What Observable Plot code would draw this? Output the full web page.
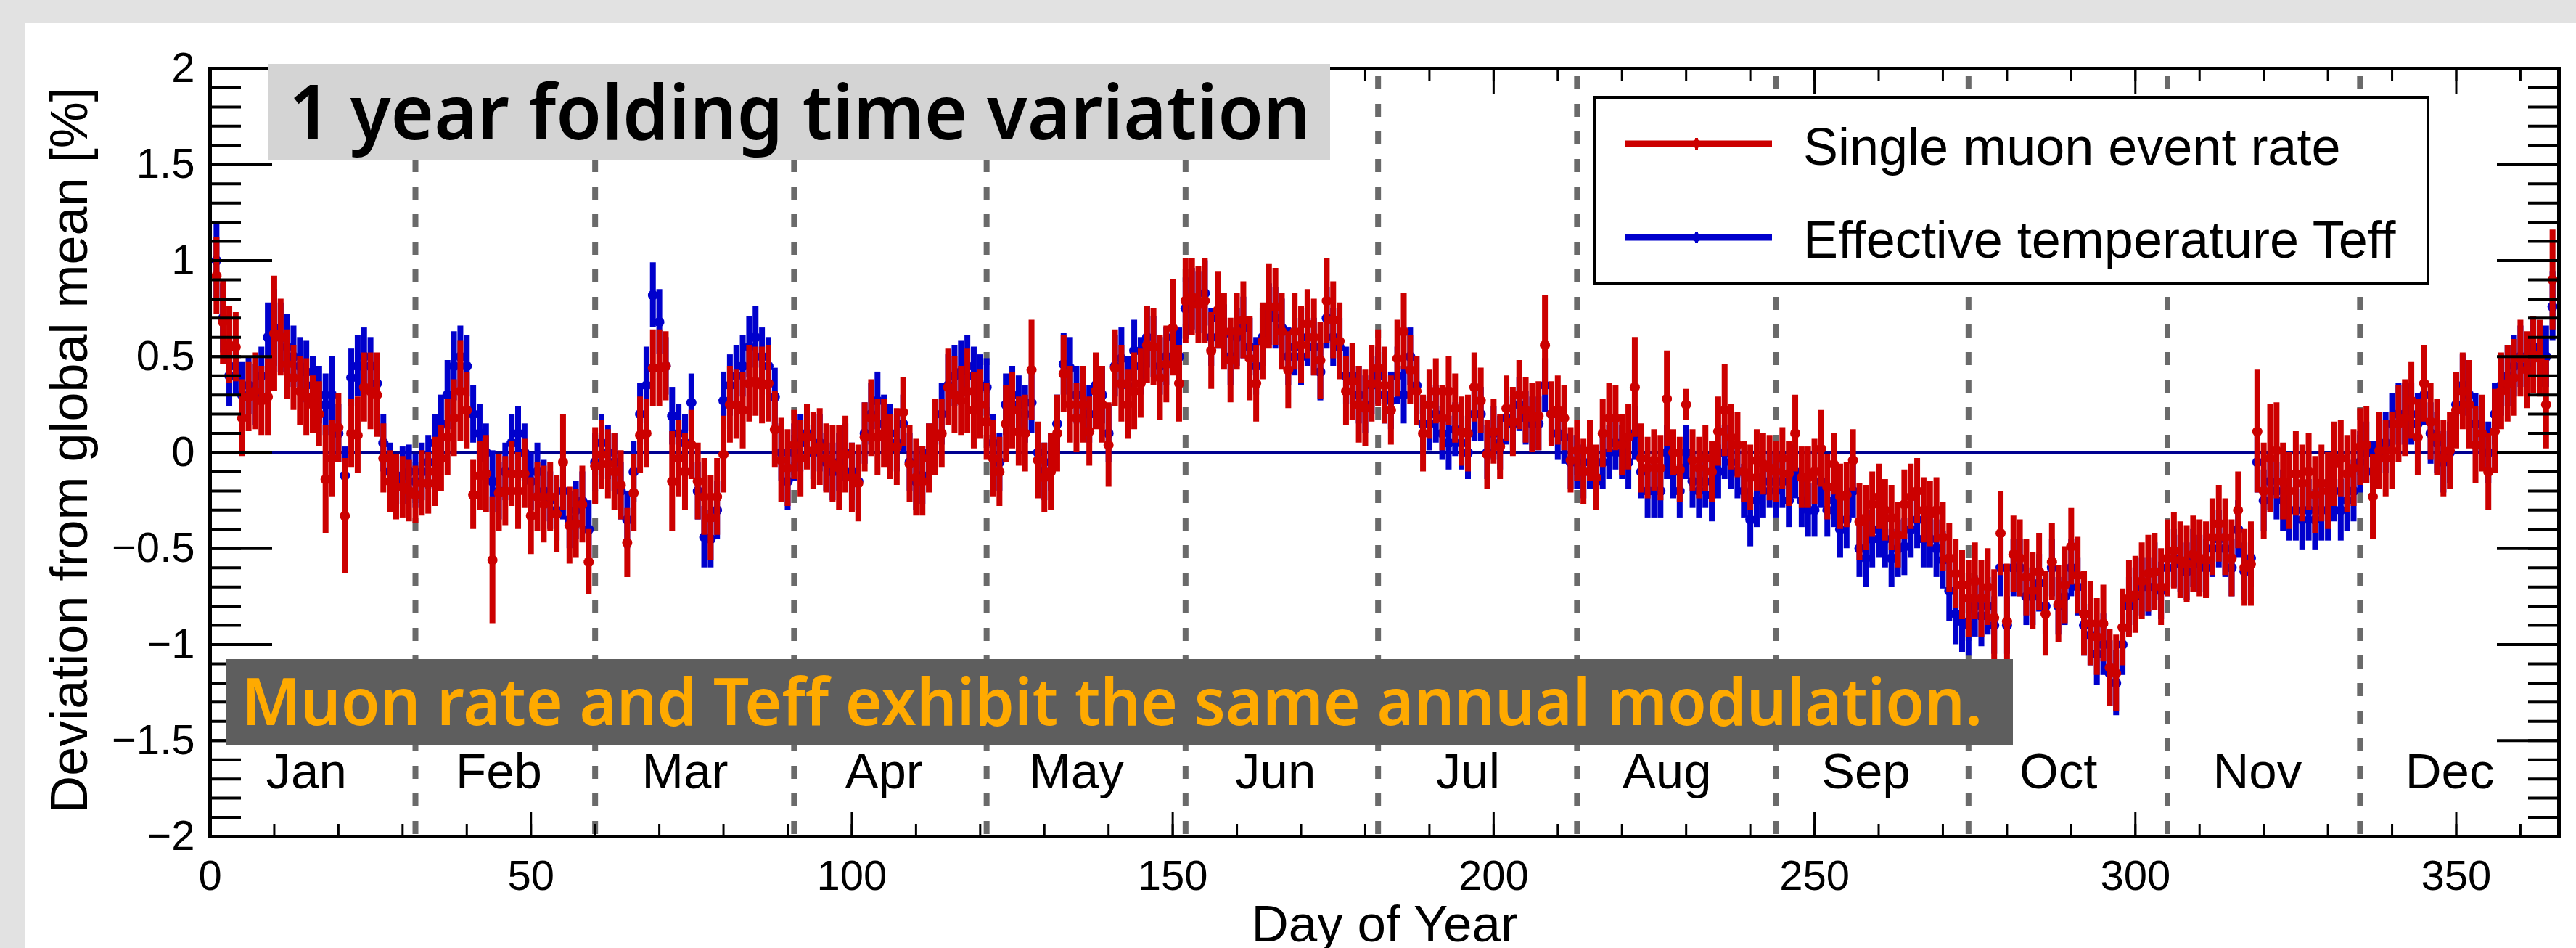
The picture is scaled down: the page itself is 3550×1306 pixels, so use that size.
<!DOCTYPE html>
<html>
<head>
<meta charset="utf-8">
<script src="https://cdn.jsdelivr.net/npm/d3@7"></script>
<script src="https://cdn.jsdelivr.net/npm/@observablehq/plot@0.6"></script>
<style>
  html, body { margin: 0; padding: 0; background: #e2e2e2; }
  #wrap { position: relative; width: 3550px; height: 1306px; overflow: hidden; background: #e2e2e2; }
  #panel { position: absolute; left: 34px; top: 31px; width: 3516px; height: 1275px; background: #ffffff; }
  #chart { position: absolute; left: 0; top: 0; }
  #overlay { position: absolute; left: 0; top: 0; }
</style>
</head>
<body>
<div id="wrap">
  <div id="panel"></div>
  <div id="chart"></div>
  <svg id="overlay" width="3550" height="1306" xmlns="http://www.w3.org/2000/svg">
    <rect x="370" y="88" width="1463" height="133" fill="#d4d4d4"/>
    <text x="398" y="192" fill="#000" font-family="'Noto Sans', 'Noto Sans CJK JP', sans-serif" font-weight="600" font-size="104" textLength="1408" lengthAdjust="spacingAndGlyphs">1 year folding time variation</text>

    <rect x="312" y="908" width="2462" height="118" fill="#5e5e5e"/>
    <text x="333" y="999" fill="#ffaa00" font-family="'Noto Sans', 'Noto Sans CJK JP', sans-serif" font-weight="600" font-size="91" textLength="2399" lengthAdjust="spacingAndGlyphs">Muon rate and Teff exhibit the same annual modulation.</text>

    <rect x="2199" y="136" width="1149" height="256" fill="#000"/>
    <rect x="2197" y="134" width="1149" height="256" fill="#fff" stroke="#000" stroke-width="4"/>
    <line x1="2239" x2="2442" y1="198" y2="198" stroke="#cc0000" stroke-width="9"/>
    <line x1="2338" x2="2338" y1="190" y2="206" stroke="#cc0000" stroke-width="4"/>
    <circle cx="2338" cy="198" r="6" fill="#cc0000"/>
    <text x="2485" y="227" fill="#000" font-family="'Liberation Sans', Arial, sans-serif" font-size="72">Single muon event rate</text>
    <line x1="2239" x2="2442" y1="327" y2="327" stroke="#0000cc" stroke-width="9"/>
    <line x1="2338" x2="2338" y1="319" y2="335" stroke="#0000cc" stroke-width="4"/>
    <circle cx="2338" cy="327" r="6" fill="#0000cc"/>
    <text x="2485" y="355" fill="#000" font-family="'Liberation Sans', Arial, sans-serif" font-size="72">Effective temperature Teff</text>
  </svg>
</div>
<script>
// ---------------- data (day of year 1..365) ----------------
const muonRate = [
  // Jan
  0.92,0.68,0.56,0.55,0.18,0.29,0.32,0.27,0.29,0.62,0.6,0.46,0.39,0.32,0.29,0.25,0.2,-0.14,-0.03,0.13,-0.33,0.1,0.09,0.34,0.32,0.3,-0.03,-0.15,-0.18,-0.18,-0.2,
  // Feb
  -0.22,-0.16,-0.16,-0.1,-0.03,0.08,0.18,0.32,0.22,-0.22,-0.12,-0.11,-0.56,-0.21,-0.2,-0.11,-0.2,-0.11,-0.33,-0.23,-0.27,-0.23,-0.32,-0.05,-0.38,-0.37,-0.27,-0.57,
  // Mar
  -0.07,-0.01,-0.06,-0.1,-0.17,-0.47,-0.21,0.09,0.1,0.44,0.44,0.45,-0.15,-0.03,-0.1,0.04,-0.15,-0.23,-0.34,-0.23,-0.01,0.25,0.25,0.22,0.36,0.37,0.35,0.36,0.12,-0.04,-0.08,
  // Apr
  0.04,-0.03,0.08,0.01,0.03,-0.03,-0.06,-0.08,-0.01,-0.13,-0.16,0.08,0.18,0.08,0.1,0.03,0.03,0.21,-0.06,-0.13,-0.15,-0.03,0.08,0.1,0.34,0.3,0.27,0.32,0.22,0.25,
  // May
  0.16,-0.03,-0.1,0.15,0.22,0.11,0.1,0.43,-0.04,-0.13,-0.1,0.1,0.41,0.25,0.18,0.25,0.11,0.32,0.25,0.04,0.44,0.36,0.25,0.32,0.36,0.56,0.55,0.39,0.46,0.65,0.36,
  // Jun
  0.79,0.81,0.77,0.79,0.53,0.74,0.63,0.48,0.63,0.69,0.49,0.36,0.58,0.76,0.76,0.63,0.43,0.63,0.56,0.67,0.6,0.48,0.79,0.69,0.58,0.32,0.37,0.25,0.23,0.36,
  // Jul
  0.44,0.35,0.22,0.49,0.63,0.43,0.32,0.1,0.25,0.32,0.18,0.32,0.23,0.11,0.1,0.34,0.27,-0.01,0.11,0.03,0.23,0.16,0.3,0.22,0.18,0.19,0.56,0.2,0.22,0.18,-0.04,
  // Aug
  0.01,-0.1,0.01,-0.13,0.1,0.18,0.18,0.04,0.08,0.34,-0.03,-0.08,-0.04,-0.08,0.28,0.0,-0.09,0.25,-0.04,-0.08,-0.03,-0.1,0.11,0.22,0.08,0.04,-0.1,-0.13,-0.04,-0.06,-0.08,
  // Sep
  -0.1,-0.03,-0.11,0.1,-0.13,-0.13,-0.1,0.02,-0.18,-0.06,-0.23,-0.22,-0.04,-0.36,-0.34,-0.27,-0.23,-0.3,-0.34,-0.43,-0.27,-0.23,-0.2,-0.3,-0.32,-0.3,-0.44,-0.55,-0.63,-0.69,
  // Oct
  -0.76,-0.67,-0.76,-0.7,-0.86,-0.42,-0.88,-0.53,-0.55,-0.65,-0.72,-0.62,-0.84,-0.57,-0.79,-0.69,-0.49,-0.64,-0.84,-0.89,-0.96,-0.89,-1.12,-1.15,-0.91,-0.76,-0.74,-0.67,-0.63,-0.62,-0.7,
  // Nov
  -0.55,-0.51,-0.56,-0.58,-0.53,-0.55,-0.56,-0.44,-0.37,-0.44,-0.55,-0.3,-0.6,-0.58,0.11,-0.2,-0.03,0.01,-0.15,-0.2,-0.11,-0.16,-0.1,-0.22,-0.16,-0.2,-0.06,-0.03,-0.11,-0.08,
  // Dec
  0.03,0.04,-0.23,0.01,-0.03,0.01,0.15,0.18,0.27,0.08,0.36,0.16,0.08,-0.03,0.01,0.22,0.32,0.25,0.04,0.1,-0.1,0.11,0.32,0.36,0.39,0.49,0.43,0.51,0.49,0.25,0.9
];
const muonErr = [
  0.2,0.22,0.2,0.18,0.2,0.18,0.2,0.18,0.2,0.3,0.2,0.18,0.17,0.18,0.2,0.15,0.17,0.28,0.2,0.18,0.3,0.18,0.2,0.18,0.2,0.22,0.18,0.16,0.17,0.16,0.16,
  0.15,0.17,0.16,0.18,0.17,0.2,0.2,0.26,0.2,0.18,0.18,0.2,0.33,0.2,0.18,0.17,0.2,0.18,0.2,0.18,0.2,0.18,0.2,0.25,0.2,0.18,0.2,0.17,
  0.2,0.18,0.18,0.2,0.18,0.18,0.2,0.2,0.18,0.2,0.2,0.18,0.26,0.2,0.2,0.18,0.2,0.2,0.22,0.2,0.2,0.2,0.18,0.2,0.2,0.18,0.2,0.2,0.2,0.22,0.2,
  0.18,0.2,0.17,0.2,0.2,0.18,0.2,0.22,0.2,0.18,0.2,0.18,0.2,0.2,0.18,0.17,0.2,0.18,0.2,0.2,0.18,0.18,0.2,0.18,0.2,0.2,0.18,0.22,0.2,0.18,
  0.2,0.2,0.18,0.2,0.2,0.18,0.2,0.26,0.2,0.18,0.2,0.2,0.2,0.2,0.18,0.2,0.18,0.2,0.2,0.22,0.2,0.2,0.18,0.2,0.18,0.2,0.2,0.22,0.2,0.25,0.2,
  0.22,0.2,0.2,0.22,0.2,0.2,0.2,0.22,0.2,0.2,0.22,0.2,0.2,0.22,0.2,0.2,0.2,0.2,0.2,0.18,0.2,0.2,0.22,0.2,0.2,0.18,0.2,0.2,0.2,0.2,
  0.2,0.2,0.18,0.2,0.2,0.18,0.18,0.2,0.18,0.17,0.17,0.18,0.18,0.18,0.2,0.18,0.17,0.18,0.17,0.17,0.17,0.18,0.18,0.17,0.18,0.18,0.26,0.17,0.18,0.17,0.17,
  0.16,0.17,0.16,0.17,0.18,0.18,0.17,0.16,0.17,0.26,0.18,0.16,0.16,0.17,0.25,0.12,0.17,0.08,0.16,0.16,0.17,0.16,0.18,0.24,0.17,0.17,0.16,0.17,0.16,0.16,0.17,
  0.16,0.16,0.17,0.2,0.16,0.16,0.17,0.2,0.17,0.16,0.17,0.17,0.16,0.2,0.17,0.17,0.17,0.16,0.17,0.17,0.18,0.17,0.17,0.17,0.17,0.17,0.18,0.18,0.18,0.18,
  0.2,0.2,0.2,0.2,0.25,0.22,0.3,0.2,0.2,0.2,0.2,0.2,0.22,0.2,0.2,0.2,0.2,0.2,0.22,0.22,0.2,0.2,0.2,0.2,0.2,0.2,0.2,0.2,0.2,0.2,0.2,
  0.2,0.2,0.2,0.2,0.2,0.2,0.2,0.2,0.2,0.2,0.2,0.2,0.2,0.22,0.32,0.25,0.28,0.25,0.2,0.2,0.22,0.2,0.2,0.2,0.2,0.2,0.22,0.2,0.2,0.2,
  0.2,0.2,0.22,0.2,0.2,0.2,0.2,0.2,0.2,0.2,0.2,0.2,0.2,0.2,0.2,0.2,0.2,0.23,0.2,0.2,0.2,0.22,0.2,0.2,0.2,0.2,0.2,0.2,0.2,0.23,0.26
];
const teffDev = [
  1.0,0.7,0.4,0.45,0.3,0.35,0.3,0.4,0.6,0.65,0.6,0.55,0.5,0.45,0.42,0.35,0.3,0.25,0.3,0.1,-0.12,0.39,0.45,0.5,0.45,0.36,0.05,-0.1,-0.15,-0.12,-0.1,
  -0.15,-0.1,-0.05,0.05,0.15,0.3,0.45,0.5,0.45,0.2,0.1,0.0,-0.15,-0.2,-0.1,0.05,0.1,0.0,-0.15,-0.1,-0.2,-0.25,-0.3,-0.2,-0.35,-0.3,-0.25,-0.4,
  -0.05,0.05,0.0,-0.05,-0.2,-0.35,-0.1,0.2,0.35,0.82,0.68,0.45,0.19,0.1,0.05,0.26,-0.2,-0.44,-0.45,-0.3,0.27,0.35,0.4,0.45,0.55,0.6,0.5,0.45,0.29,0.0,-0.15,
  0.0,0.05,0.1,0.0,0.05,-0.05,-0.1,-0.05,0.0,-0.1,-0.15,0.1,0.2,0.27,0.15,0.1,0.05,0.15,-0.05,-0.15,-0.12,0.0,0.1,0.2,0.35,0.4,0.42,0.45,0.4,0.35,
  0.34,0.05,-0.05,0.25,0.3,0.25,0.2,0.26,0.0,-0.1,-0.05,0.15,0.46,0.44,0.3,0.25,0.2,0.35,0.3,0.1,0.45,0.49,0.35,0.53,0.45,0.6,0.55,0.45,0.5,0.6,0.5,
  0.75,0.8,0.78,0.83,0.6,0.7,0.62,0.5,0.6,0.65,0.55,0.45,0.6,0.72,0.7,0.65,0.5,0.55,0.5,0.6,0.55,0.42,0.7,0.6,0.55,0.4,0.4,0.3,0.25,0.35,
  0.4,0.3,0.27,0.4,0.3,0.5,0.35,0.15,0.15,0.2,0.1,0.05,0.12,0.05,0.0,0.2,0.2,0.0,0.1,0.05,0.18,0.15,0.25,0.18,0.15,0.15,0.35,0.2,0.1,0.08,-0.05,
  -0.05,-0.1,-0.05,-0.15,-0.05,0.0,0.05,0.0,-0.05,0.1,-0.1,-0.2,-0.2,-0.2,0.0,-0.1,-0.2,0.0,-0.15,-0.2,-0.15,-0.22,-0.1,0.0,-0.05,-0.1,-0.2,-0.35,-0.25,-0.2,-0.15,
  -0.2,-0.15,-0.25,-0.1,-0.25,-0.3,-0.3,-0.15,-0.3,-0.25,-0.4,-0.35,-0.2,-0.5,-0.55,-0.45,-0.4,-0.45,-0.55,-0.5,-0.49,-0.4,-0.35,-0.45,-0.45,-0.5,-0.56,-0.72,-0.84,-0.88,
  -0.9,-0.8,-0.85,-0.8,-0.9,-0.6,-0.9,-0.6,-0.6,-0.75,-0.75,-0.68,-0.8,-0.6,-0.8,-0.75,-0.6,-0.7,-0.9,-0.95,-1.05,-1.0,-1.15,-1.2,-1.0,-0.8,-0.75,-0.7,-0.7,-0.62,-0.72,
  -0.6,-0.55,-0.58,-0.62,-0.55,-0.58,-0.6,-0.5,-0.45,-0.5,-0.6,-0.4,-0.62,-0.55,-0.05,-0.25,-0.15,-0.2,-0.25,-0.3,-0.3,-0.35,-0.3,-0.35,-0.3,-0.3,-0.2,-0.3,-0.25,-0.2,
  -0.05,0.0,-0.1,0.0,0.05,0.15,0.2,0.2,0.2,0.15,0.3,0.1,0.05,-0.05,0.0,0.25,0.35,0.3,0.15,0.1,0.0,0.2,0.35,0.4,0.45,0.5,0.45,0.55,0.5,0.5,0.76
];
const teffErr = [
  0.2,0.18,0.16,0.15,0.17,0.15,0.16,0.15,0.18,0.2,0.18,0.17,0.16,0.15,0.16,0.15,0.15,0.16,0.2,0.15,0.15,0.15,0.16,0.15,0.15,0.15,0.15,0.15,0.14,0.15,0.14,
  0.14,0.15,0.14,0.15,0.15,0.18,0.18,0.16,0.16,0.15,0.15,0.15,0.16,0.15,0.15,0.15,0.14,0.15,0.15,0.15,0.16,0.15,0.16,0.15,0.15,0.15,0.15,0.15,
  0.15,0.15,0.14,0.15,0.15,0.15,0.16,0.16,0.2,0.17,0.17,0.15,0.15,0.15,0.15,0.15,0.15,0.16,0.15,0.15,0.15,0.16,0.16,0.16,0.16,0.16,0.15,0.15,0.15,0.15,0.15,
  0.15,0.15,0.15,0.14,0.15,0.15,0.15,0.15,0.15,0.15,0.15,0.16,0.16,0.15,0.15,0.15,0.15,0.15,0.15,0.15,0.15,0.15,0.15,0.16,0.16,0.16,0.16,0.16,0.15,0.16,
  0.15,0.15,0.15,0.16,0.15,0.15,0.15,0.16,0.15,0.15,0.15,0.15,0.16,0.16,0.15,0.15,0.15,0.16,0.15,0.15,0.16,0.16,0.15,0.16,0.15,0.16,0.16,0.15,0.15,0.16,0.15,
  0.16,0.16,0.16,0.17,0.15,0.16,0.15,0.15,0.15,0.16,0.15,0.15,0.15,0.16,0.16,0.15,0.15,0.15,0.15,0.15,0.15,0.15,0.16,0.15,0.15,0.15,0.15,0.15,0.15,0.15,
  0.15,0.15,0.15,0.15,0.15,0.15,0.15,0.14,0.14,0.15,0.14,0.14,0.14,0.14,0.14,0.14,0.14,0.14,0.14,0.14,0.14,0.14,0.14,0.14,0.14,0.14,0.14,0.14,0.14,0.14,0.14,
  0.14,0.14,0.14,0.14,0.14,0.14,0.14,0.14,0.14,0.14,0.14,0.14,0.14,0.14,0.14,0.14,0.14,0.14,0.14,0.14,0.14,0.14,0.14,0.14,0.14,0.14,0.14,0.14,0.14,0.14,0.14,
  0.14,0.14,0.14,0.14,0.14,0.14,0.14,0.14,0.14,0.14,0.15,0.15,0.14,0.15,0.15,0.15,0.15,0.15,0.15,0.15,0.15,0.15,0.15,0.15,0.15,0.15,0.15,0.16,0.16,0.16,
  0.16,0.16,0.16,0.15,0.15,0.15,0.15,0.15,0.15,0.15,0.15,0.15,0.15,0.15,0.15,0.15,0.15,0.15,0.16,0.16,0.16,0.16,0.17,0.17,0.16,0.15,0.15,0.15,0.15,0.15,0.15,
  0.15,0.15,0.15,0.15,0.15,0.15,0.15,0.15,0.15,0.15,0.15,0.15,0.15,0.15,0.16,0.16,0.15,0.15,0.16,0.16,0.16,0.16,0.16,0.16,0.16,0.16,0.16,0.16,0.16,0.16,
  0.16,0.16,0.16,0.16,0.16,0.16,0.16,0.16,0.16,0.16,0.16,0.16,0.16,0.16,0.16,0.16,0.16,0.16,0.16,0.16,0.16,0.16,0.16,0.16,0.16,0.16,0.16,0.16,0.16,0.16,0.18
];

const monthNames  = ["Jan","Feb","Mar","Apr","May","Jun","Jul","Aug","Sep","Oct","Nov","Dec"];
const monthMid    = [15, 45, 74, 105, 135, 166, 196, 227, 258, 288, 319, 349];
const monthStarts = [32, 60, 91, 121, 152, 182, 213, 244, 274, 305, 335];
const xTicks = [0, 50, 100, 150, 200, 250, 300, 350];
const yTicks = [-2, -1.5, -1, -0.5, 0, 0.5, 1, 1.5, 2];

// ---------------- build ----------------
const days = d3.range(1, muonRate.length + 1);
const muon = days.map((d, i) => ({day: d, v: muonRate[i], e: muonErr[i]}));
const teff = days.map((d, i) => ({day: d, v: teffDev[i], e: teffErr[i]}));
const xMinor = d3.range(0, 366, 10);
const yMinor = d3.range(-20, 21).map(i => i / 10);
const fmtY = d => (d < 0 ? "\u2212" + Math.abs(d) : String(d));

const RED = "#cc0000", BLUE = "#0000cc";
const FONT = "'Liberation Sans', Arial, Helvetica, sans-serif";

const chart = Plot.plot({
  width: 3550,
  height: 1306,
  marginLeft: 289,
  marginRight: 24,
  marginTop: 94,
  marginBottom: 154,
  style: {background: "transparent", overflow: "visible", fontFamily: FONT, color: "#000"},
  x: {domain: [0, 366], axis: null, label: null},
  y: {domain: [-2, 2], axis: null, label: null},
  marks: [
    Plot.ruleY([0], {stroke: "#000090", strokeWidth: 4}),
    Plot.ruleX(monthStarts, {stroke: "#6a6a6a", strokeWidth: 8, strokeDasharray: "18,20", strokeDashoffset: 27}),
    Plot.ruleX(teff, {x: "day", y1: d => d.v - d.e, y2: d => d.v + d.e, stroke: BLUE, strokeWidth: 8}),
    Plot.dot(teff, {x: "day", y: "v", r: 7, fill: BLUE, stroke: "none"}),
    Plot.ruleX(muon, {x: "day", y1: d => d.v - d.e, y2: d => d.v + d.e, stroke: RED, strokeWidth: 8}),
    Plot.dot(muon, {x: "day", y: "v", r: 7, fill: RED, stroke: "none"}),
    Plot.text(monthNames, {x: (d, i) => monthMid[i], text: d => d, frameAnchor: "bottom", dy: -67, lineAnchor: "bottom", fontSize: 69, fill: "#000"}),
    // ticks (inward)
    Plot.axisY(yTicks, {anchor: "left", tickSize: -86, strokeWidth: 4, stroke: "#000", fill: "none", label: null}),
    Plot.axisY(yMinor, {anchor: "left", tickSize: -43, strokeWidth: 4, stroke: "#000", fill: "none", label: null}),
    Plot.axisY(yTicks, {anchor: "right", tickSize: -86, strokeWidth: 4, stroke: "#000", fill: "none", label: null}),
    Plot.axisY(yMinor, {anchor: "right", tickSize: -43, strokeWidth: 4, stroke: "#000", fill: "none", label: null}),
    Plot.axisX(xTicks, {anchor: "bottom", tickSize: -34, strokeWidth: 3, stroke: "#000", fill: "none", label: null}),
    Plot.axisX(xMinor, {anchor: "bottom", tickSize: -17, strokeWidth: 3, stroke: "#000", fill: "none", label: null}),
    Plot.axisX(xTicks, {anchor: "top", tickSize: -34, strokeWidth: 3, stroke: "#000", fill: "none", label: null}),
    Plot.axisX(xMinor, {anchor: "top", tickSize: -17, strokeWidth: 3, stroke: "#000", fill: "none", label: null}),
    // tick labels
    Plot.axisY(yTicks, {anchor: "left", tickSize: 0, tickPadding: 21, fontSize: 58, fill: "#000", tickFormat: fmtY, label: null}),
    Plot.axisX(xTicks, {anchor: "bottom", tickSize: 0, tickPadding: 32, fontSize: 58, fill: "#000", tickFormat: d => String(d), label: null}),
    // axis titles
    Plot.text(["Day of Year"], {text: d => d, frameAnchor: "bottom", dy: 144, lineAnchor: "bottom", textAnchor: "middle", fontSize: 71, fill: "#000"}),
    Plot.text(["Deviation from global mean [%]"], {text: d => d, frameAnchor: "left", dx: -170, dy: -3, rotate: -90, textAnchor: "middle", lineAnchor: "bottom", fontSize: 72, fill: "#000"}),
    Plot.frame({stroke: "#000", strokeWidth: 5})
  ]
});
document.getElementById("chart").appendChild(chart);
</script>
</body>
</html>
